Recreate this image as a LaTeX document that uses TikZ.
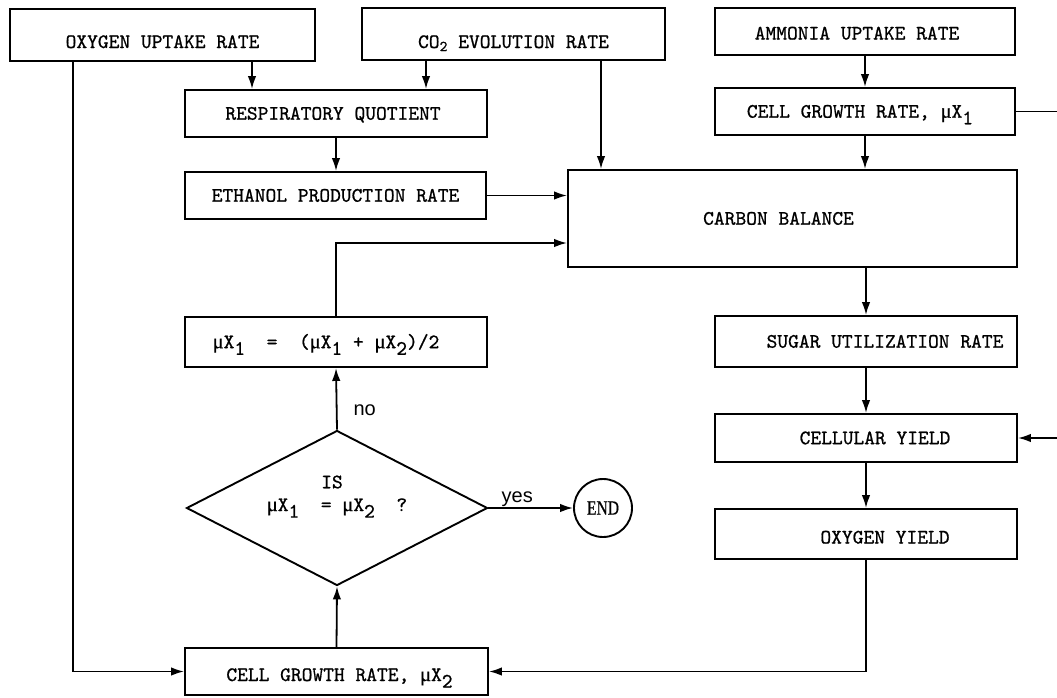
\documentclass[tikz,border=0pt]{standalone}
\usepackage{fontspec}
\newfontfamily\twfont{lmmono10-regular.otf}[FakeBold=0.8]
\newfontfamily\ynfont{Liberation Sans}
\newfontfamily\endfont{Liberation Serif}[FakeStretch=0.78,FakeBold=0.6]
\newfontfamily\mufont{Liberation Serif}[FakeBold=0.6]
\usetikzlibrary{arrows.meta,shapes.geometric}
\newcommand\lsub[1]{\raisebox{-0.32em}{#1}}
\newcommand\csub[1]{\raisebox{-0.15em}{\fontsize{15}{15}\selectfont #1}}
\newcommand\mux{{\mufont μ}X}
\begin{document}
\begin{tikzpicture}[x=1pt,y=-1pt,
  every node/.style={font=\twfont\fontsize{20.5}{24}\selectfont},
  box/.style={draw, line width=1.9pt, rectangle, inner sep=0pt, text height=12.4pt, text depth=0pt},
  low/.style={text height=#1, text depth=0pt},
  dia/.style={draw, line width=1.9pt, diamond, aspect=2, inner sep=0pt, minimum width=301pt, minimum height=155pt},
  endc/.style={draw, line width=1.9pt, circle, minimum size=58pt, inner sep=0pt, font=\endfont\fontsize{20}{20}\selectfont},
  conn/.style={line width=1.8pt},
  arr/.style={conn, -{Latex[length=13pt,width=8.5pt]}},
  yn/.style={font=\ynfont\fontsize{20}{20}\selectfont, inner sep=0pt}
]
\useasboundingbox (0,0) rectangle (1057,697);

% top row
\node[box, low=26pt, minimum width=305pt, minimum height=52pt] (oxy) at (162.5,35) {OXYGEN UPTAKE RATE};
\node[box, low=28pt, minimum width=303pt, minimum height=52pt] (co2) at (513.5,34) {CO\csub{2} EVOLUTION RATE};
\node[box, low=16pt, minimum width=300pt, minimum height=47pt] (amm) at (865,31.5) {AMMONIA UPTAKE RATE\hspace*{16pt}};

% second row
\node[box, minimum width=302pt, minimum height=47pt] (resp) at (336,113.5) {RESPIRATORY QUOTIENT\hspace*{6pt}};
\node[box, minimum width=300pt, minimum height=47pt] (mu1) at (865,111.5) {CELL GROWTH RATE, \mux\lsub{1}\hspace*{10pt}};

% third row
\node[box, minimum width=301pt, minimum height=47pt] (eth) at (335.5,195.5) {ETHANOL PRODUCTION RATE};
\node[box, minimum width=449pt, minimum height=97pt] (carbon) at (792.5,218.5) {CARBON BALANCE\hspace*{28pt}};

% left loop
\node[box, minimum width=302pt, minimum height=50pt] (avg) at (336,342) {\mux\lsub{1}~~=~~(\mux\lsub{1}~+~\mux\lsub{2})/2\hspace*{20pt}};
\node[dia] (dia) at (337,508) {\mux\lsub{1}~~=~\mux\lsub{2}~~?};
\node (is) at (332,482) {IS};
\node[endc] (end) at (603,508) {END};
\node[box, low=19pt, minimum width=303pt, minimum height=47pt] (mu2) at (336.5,671.5) {\hspace*{6pt}CELL GROWTH RATE, \mux\lsub{2}};

% right column
\node[box, minimum width=302pt, minimum height=51pt] (sugar) at (866,341.5) {\hspace*{38pt}SUGAR UTILIZATION RATE};
\node[box, minimum width=302pt, minimum height=48pt] (cell) at (866,438) {\hspace*{18pt}CELLULAR YIELD};
\node[box, low=19pt, minimum width=302pt, minimum height=50pt] (oyield) at (866,534) {\hspace*{38pt}OXYGEN YIELD};

\coordinate (rout) at (1057,111.5);
\coordinate (rin) at (1057,438);

% connectors
\draw[arr] (oxy.south -| 252,0) -- (resp.north -| 252,0);
\draw[arr] (co2.south -| 426,0) -- (resp.north -| 426,0);
\draw[arr] (co2.south -| 601,0) -- (carbon.north -| 601,0);
\draw[arr] (amm.south) -- (mu1.north);
\draw[conn] (mu1.east) -- (rout);
\draw[arr] (mu1.south) -- (mu1.south |- carbon.north);
\draw[arr] (resp.south) -- (resp.south |- eth.north);
\draw[arr] (eth.east) -- (eth.east -| carbon.west);
\draw[arr] (oxy.south -| 73,0) |- (mu2.west);
\draw[arr] (sugar.north |- carbon.south) -- (sugar.north);
\draw[arr] (sugar.south) -- (cell.north);
\draw[arr] (rin) -- (cell.east);
\draw[arr] (cell.south) -- (oyield.north);
\draw[arr] (oyield.south) |- (mu2.east);
\draw[arr] (mu2.north) -- (dia.south);
\draw[arr] (dia.north) -- node[yn, anchor=west, xshift=16pt, pos=0.32] {no} (avg.south);
\draw[arr] (avg.north) |- ([yshift=-24.5pt]carbon.west);
\draw[arr] (dia.east) -- node[yn, anchor=base, yshift=6pt, pos=0.34] {yes} (end.west);
\end{tikzpicture}
\end{document}
